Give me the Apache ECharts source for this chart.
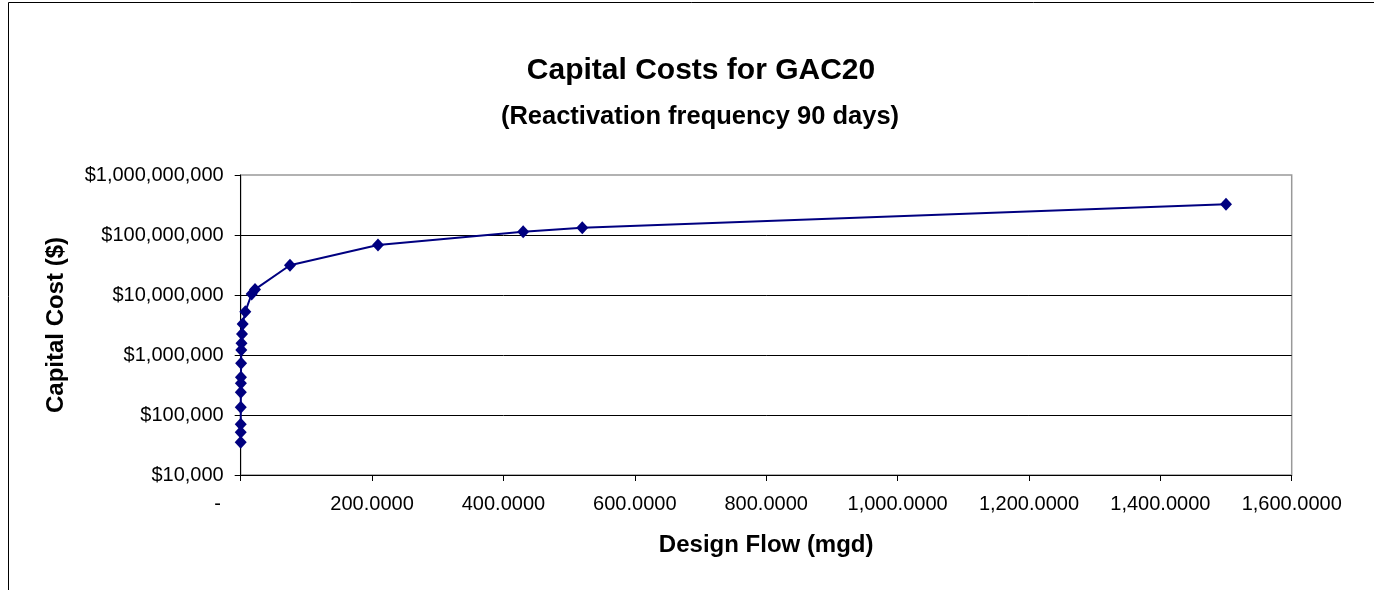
<!DOCTYPE html>
<html>
<head>
<meta charset="utf-8">
<script src="https://cdn.jsdelivr.net/npm/echarts@6/dist/echarts.min.js"></script>
<style>
html,body{margin:0;padding:0;background:#fff;}
#chart{width:1374px;height:590px;}
</style>
</head>
<body>
<div id="chart"></div>
<script>
// Design flow (mgd)
const designFlow = [0.01, 0.03, 0.06, 0.1, 0.2, 0.3, 0.4, 0.6, 0.9, 1.2, 2.0, 3.0, 7.0, 16.7, 21.8, 75, 209, 430, 520, 1500];
// Capital cost ($)
const capitalCost = [35000, 51500, 70000, 134000, 239000, 338000, 425000, 727000, 1212000, 1567000, 2239000, 3285000, 5270000, 10400000, 12400000, 31300000, 68000000, 113500000, 132000000, 324000000];
const titleText = 'Capital Costs for GAC20';
const subtitleText = '(Reactivation frequency 90 days)';
const xName = 'Design Flow (mgd)';
const yName = 'Capital Cost ($)';

const FONT = '"Liberation Sans", Arial, sans-serif';
const chart = echarts.init(document.getElementById('chart'));
const points = designFlow.map((x, i) => [x, capitalCost[i]]);

chart.setOption({
  animation: false,
  textStyle: { fontFamily: FONT },
  graphic: [{
    type: 'rect',
    shape: { x: 8.5, y: 2.5, width: 1500, height: 800 },
    style: { fill: 'none', stroke: '#000', lineWidth: 1 },
    silent: true
  }],
  title: [
    { text: titleText, left: 696, textAlign: 'center', top: 51,
      textStyle: { fontFamily: FONT, fontSize: 30, fontWeight: 'bold', color: '#000' } },
    { text: subtitleText, left: 695, textAlign: 'center', top: 99,
      textStyle: { fontFamily: FONT, fontSize: 25.5, fontWeight: 'bold', color: '#000' } }
  ],
  grid: {
    left: 240.7, right: 82.3, top: 175, bottom: 115,
    show: true, borderColor: '#999', borderWidth: 1.5, backgroundColor: 'transparent'
  },
  xAxis: {
    type: 'value', min: 0, max: 1600, interval: 200,
    name: xName, nameLocation: 'middle', nameGap: 58,
    nameTextStyle: { fontFamily: FONT, fontSize: 24, fontWeight: 'bold', color: '#000' },
    axisLine: { show: true, onZero: false, lineStyle: { color: '#000', width: 1 } },
    axisTick: { show: true, length: 6, lineStyle: { color: '#000' } },
    axisLabel: {
      margin: 19, fontFamily: FONT, fontSize: 20, color: '#000',
      formatter: v => v === 0 ? '{z|-}' : v.toLocaleString('en-US', { minimumFractionDigits: 4, maximumFractionDigits: 4 }),
      rich: { z: { fontFamily: FONT, fontSize: 20, color: '#000', padding: [0, 46, 0, 0] } }
    },
    splitLine: { show: false }
  },
  yAxis: {
    type: 'log', logBase: 10, min: 10000, max: 1000000000, splitNumber: 5,
    name: yName, nameLocation: 'middle', nameGap: 172, nameRotate: 90,
    nameTextStyle: { fontFamily: FONT, fontSize: 24, fontWeight: 'bold', color: '#000' },
    axisLine: { show: true, lineStyle: { color: '#000', width: 1 } },
    axisTick: { show: true, length: 6, lineStyle: { color: '#000' } },
    axisLabel: {
      margin: 17, fontFamily: FONT, fontSize: 20, color: '#000',
      formatter: v => '$' + Math.round(v).toLocaleString('en-US')
    },
    splitLine: { show: true, showMaxLine: false, lineStyle: { color: '#000', width: 1 } },
    minorTick: { show: false }
  },
  series: [{
    type: 'line',
    data: points,
    symbol: 'diamond',
    symbolSize: [12, 13],
    showAllSymbol: true,
    lineStyle: { color: '#000080', width: 2 },
    itemStyle: { color: '#000080' },
    z: 5
  }]
});
</script>
</body>
</html>
